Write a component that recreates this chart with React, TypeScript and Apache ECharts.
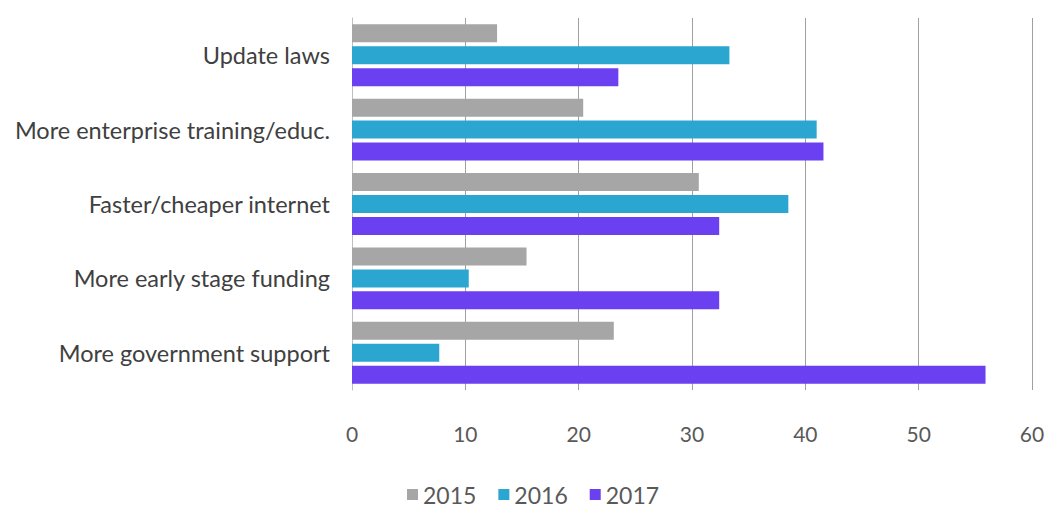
import React, { useEffect, useRef } from "react";
import * as echarts from "echarts";

const categories = [
  "More government support",
  "More early stage funding",
  "Faster/cheaper internet",
  "More enterprise training/educ.",
  "Update laws",
];
const seriesNames = ["2015", "2016", "2017"];
const values2015 = [23.1, 15.4, 30.6, 20.4, 12.8];
const values2016 = [7.7, 10.3, 38.5, 41.0, 33.3];
const values2017 = [55.9, 32.4, 32.4, 41.6, 23.5];
const xTicks = [0, 10, 20, 30, 40, 50, 60];

const colors = ["#A6A6A6", "#2AA6D1", "#6A40F0"];
const FONT = "Lato, 'Open Sans', sans-serif";

export default function App() {
  const ref = useRef<HTMLDivElement>(null);
  useEffect(() => {
    if (!ref.current) return;
    const chart = echarts.init(ref.current, undefined, { renderer: "svg" });
    const data = [values2015, values2016, values2017];
    chart.setOption({
      animation: false,
      backgroundColor: "#ffffff",
      textStyle: { fontFamily: FONT },
      grid: { left: 352, right: 17, top: 18, bottom: 119, containLabel: false },
      legend: {
        data: seriesNames,
        top: 483,
        left: 407,
        padding: 0,
        itemWidth: 11,
        itemHeight: 11,
        itemGap: 22,
        icon: "rect",
        textStyle: { fontSize: 23, color: "#595959", fontFamily: FONT },
      },
      xAxis: {
        type: "value",
        min: xTicks[0],
        max: xTicks[xTicks.length - 1],
        interval: 10,
        axisLine: { show: false },
        axisTick: { show: false },
        axisLabel: { fontSize: 21, color: "#595959", margin: 33, fontFamily: FONT },
        splitLine: { show: true, lineStyle: { color: "#A0A0A0", width: 1 } },
      },
      yAxis: {
        type: "category",
        data: categories,
        axisLine: { show: true, lineStyle: { color: "#BFBFBF", width: 1 } },
        axisTick: { show: false },
        axisLabel: { fontSize: 23.5, color: "#404040", margin: 22, fontFamily: FONT },
      },
      series: seriesNames.map((name, i) => ({
        name,
        type: "bar",
        data: data[i],
        barWidth: 18,
        barGap: "22%",
        barCategoryGap: "17%",
        itemStyle: { color: colors[i] },
      })),
    });
    return () => chart.dispose();
  }, []);
  return (
    <div
      ref={ref}
      style={{ position: "fixed", left: 0, top: 0, width: 1049, height: 509 }}
    />
  );
}
